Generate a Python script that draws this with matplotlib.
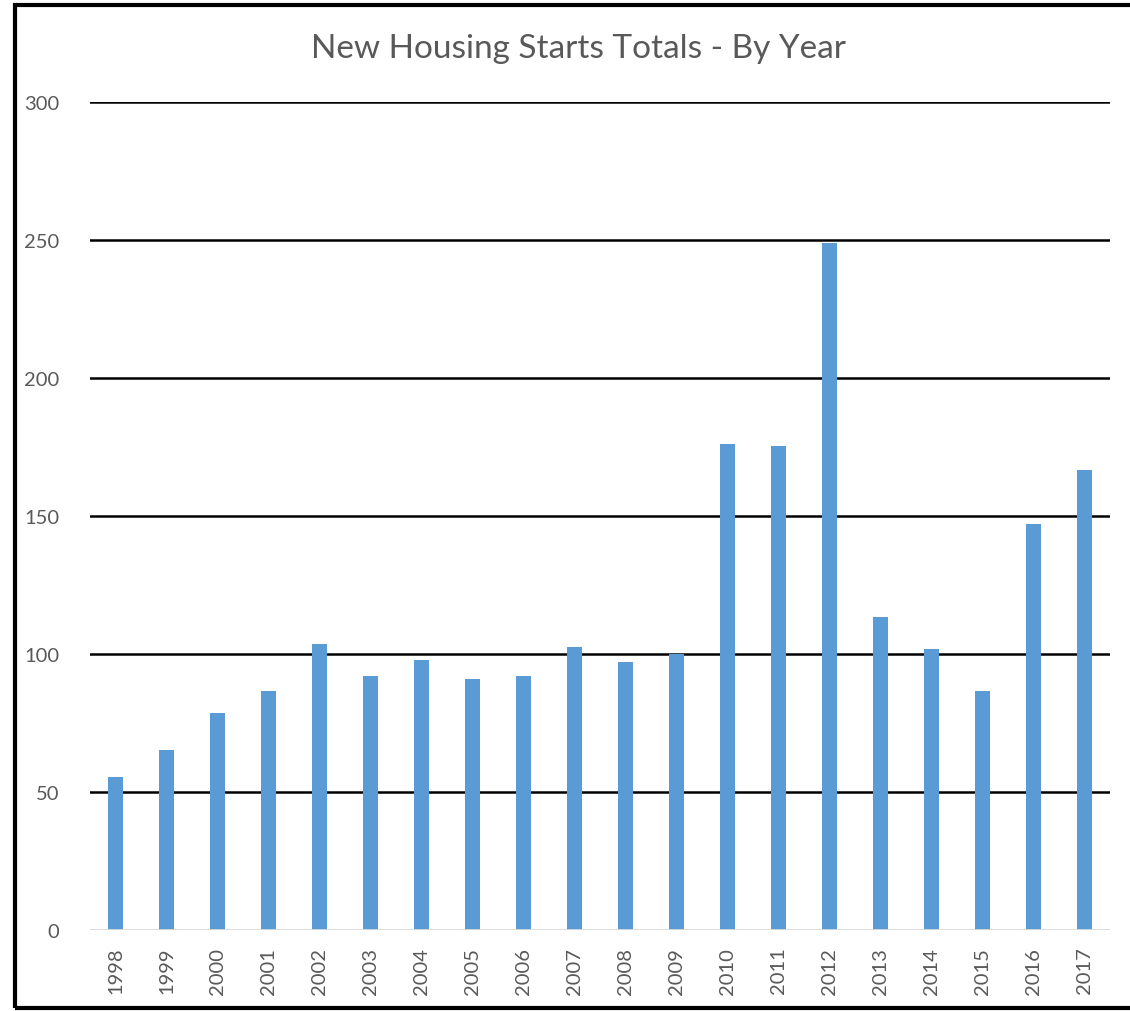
import matplotlib
matplotlib.use("Agg")
import matplotlib.pyplot as plt
from matplotlib.patches import Rectangle
import numpy as np

years = [str(y) for y in range(1998, 2018)]
starts = [55.5, 65.2, 78.6, 86.6, 103.6, 92.0, 97.8, 91.0, 92.0, 102.5,
          97.1, 100.0, 176.1, 175.4, 248.9, 113.4, 101.8, 86.6, 147.1, 166.7]
yticks = [0, 50, 100, 150, 200, 250, 300]

plt.rcParams['font.family'] = ['Lato', 'DejaVu Sans']

fig = plt.figure(figsize=(11.3, 10.12), dpi=100)
ax = fig.add_axes([0.0796, 0.080, 0.9027, 0.818])

x = np.arange(len(years))
ax.bar(x, starts, width=0.31, color='#5b9bd5', zorder=3)

ax.set_xlim(-0.5, len(years) - 0.5)
ax.set_ylim(0, 300)
ax.set_yticks(yticks)
ax.set_xticks(x)
ax.set_xticklabels(years, rotation=90)

for v in yticks[1:]:
    ax.axhline(v, color='black', lw=1.8, zorder=1)
ax.axhline(0, color='#d9d9d9', lw=2, zorder=4)

for s in ax.spines.values():
    s.set_visible(False)
ax.tick_params(axis='both', length=0, colors='#595959', labelsize=14.5)
ax.tick_params(axis='y', pad=22)
ax.tick_params(axis='x', pad=12)

fig.text(0.512, 0.952, 'New Housing Starts Totals - By Year', ha='center', va='center',
         fontsize=24, color='#595959')

# outer frame (right edge cut off in the original)
fig.patches.append(Rectangle((15 / 1130, 3 / 1012), 1.2, 1003 / 1012, transform=fig.transFigure,
                             fill=False, edgecolor='black', lw=3, zorder=10))

fig.savefig('out.png', dpi=100)
